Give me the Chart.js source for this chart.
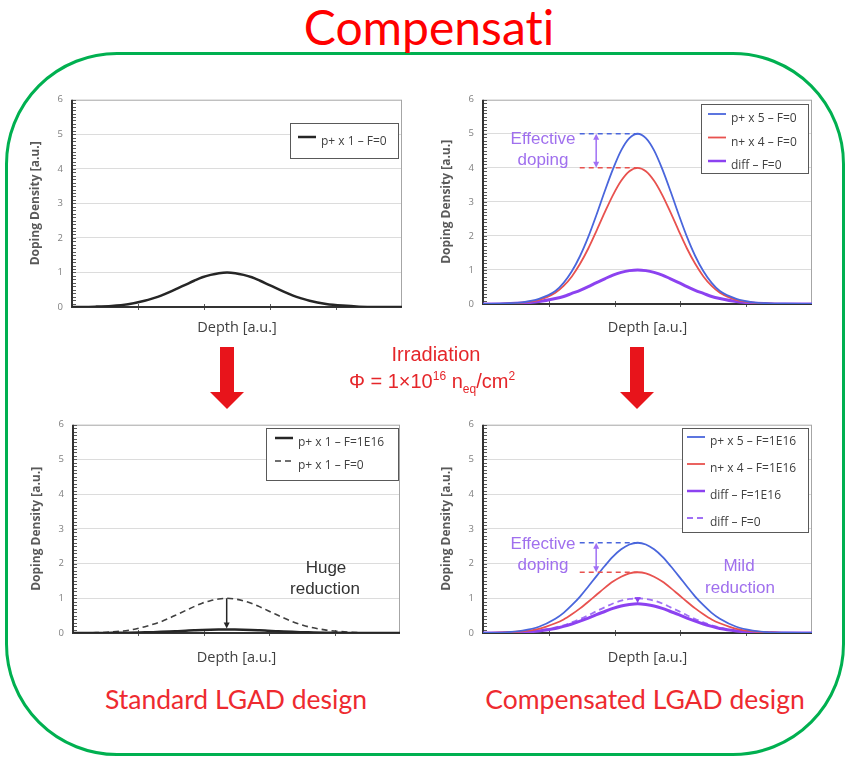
<!DOCTYPE html>
<html>
<head>
<meta charset="utf-8">
<script src="https://cdn.jsdelivr.net/npm/chart.js@4.4.1/dist/chart.umd.min.js"></script>
<style>
  body { margin: 0; background: #fff; }
  #page { position: relative; width: 852px; height: 760px; overflow: hidden; font-family: "Liberation Sans", Arial, sans-serif; }
  #frame { position: absolute; left: 5px; top: 52px; width: 840px; height: 704px; border: 3px solid #00B050; border-radius: 112px; box-sizing: border-box; }
  .t { position: absolute; transform: translate(-50%, -50%); white-space: nowrap; text-align: center; line-height: 1; }
  .cal { font-family: Lato, "Open Sans", sans-serif; font-variant-ligatures: none; }
  .purple { color: #A070EE; font-size: 17px; }
  .irr { color: #E5262A; font-size: 20px; }
  canvas { position: absolute; }
  sup, sub { font-size: 12px; line-height: 0; }
</style>
</head>
<body>
<div id="page">
  <div id="frame"></div>
  <div class="t cal" style="left:429px;top:27px;font-size:48px;color:#FF0000;">Compensati</div>

  <svg width="852" height="760" style="position:absolute;left:0;top:0;">
    <polygon points="220,347 234,347 234,392 244,392 227,409 210,392 220,392" fill="#E8141B"/>
    <polygon points="630,347 644,347 644,392 654,392 637,409 620,392 630,392" fill="#E8141B"/>
  </svg>

  <canvas id="c1"></canvas>
  <canvas id="c2"></canvas>
  <canvas id="c3"></canvas>
  <canvas id="c4"></canvas>

  <div class="t irr" style="left:436px;top:354px;">Irradiation</div>
  <div class="t irr" style="left:432px;top:381px;">Φ = 1×10<sup>16</sup> n<sub>eq</sub>/cm<sup>2</sup></div>

  <div class="t purple" style="left:543px;top:138px;">Effective</div>
  <div class="t purple" style="left:543px;top:159px;">doping</div>

  <div class="t" style="left:326px;top:567px;font-size:17px;color:#333;">Huge</div>
  <div class="t" style="left:325px;top:588px;font-size:17px;color:#333;">reduction</div>

  <div class="t purple" style="left:543px;top:543px;">Effective</div>
  <div class="t purple" style="left:543px;top:564px;">doping</div>
  <div class="t purple" style="left:739px;top:565px;">Mild</div>
  <div class="t purple" style="left:740px;top:587px;">reduction</div>

  <div class="t cal" style="left:236px;top:699px;font-size:26.5px;color:#EE2A2F;">Standard LGAD design</div>
  <div class="t cal" style="left:645px;top:699px;font-size:26.5px;color:#EE2A2F;">Compensated LGAD design</div>
</div>

<script>
const depth = [0, 0.7, 1.2, 1.7, 2.2, 2.45, 2.7, 2.95, 3.2, 3.45, 3.7, 3.95, 4.2, 4.45, 4.7, 4.95, 5.2, 5.45, 5.7, 5.95, 6.2, 6.45, 6.7, 6.95, 7.2, 7.7, 8.2, 8.7, 9.2, 10];

// standard LGAD, p+ x 1
const pPlus1_F0  = [0, 0.01, 0.03, 0.08, 0.18, 0.25, 0.33, 0.43, 0.54, 0.65, 0.76, 0.86, 0.93, 0.98, 1.0, 0.98, 0.93, 0.86, 0.76, 0.65, 0.54, 0.43, 0.33, 0.25, 0.18, 0.09, 0.04, 0.01, 0, 0];
const pPlus1_F16 = [0, 0, 0.005, 0.01, 0.02, 0.025, 0.033, 0.043, 0.054, 0.065, 0.076, 0.086, 0.093, 0.098, 0.1, 0.098, 0.093, 0.086, 0.076, 0.065, 0.054, 0.043, 0.033, 0.025, 0.02, 0.01, 0.005, 0, 0, 0];

// compensated LGAD, before irradiation
const pPlus5_F0 = [0, 0.02, 0.05, 0.15, 0.38, 0.62, 0.96, 1.41, 1.97, 2.62, 3.31, 3.96, 4.51, 4.87, 5.0, 4.87, 4.51, 3.96, 3.31, 2.62, 1.97, 1.41, 0.96, 0.62, 0.38, 0.15, 0.05, 0.02, 0.01, 0];
const nPlus4_F0 = [0, 0.01, 0.04, 0.12, 0.33, 0.53, 0.81, 1.18, 1.63, 2.15, 2.69, 3.2, 3.62, 3.9, 4.0, 3.9, 3.62, 3.2, 2.69, 2.15, 1.63, 1.18, 0.81, 0.53, 0.33, 0.12, 0.04, 0.01, 0, 0];
const diff_F0   = [0, 0.01, 0.03, 0.07, 0.16, 0.22, 0.31, 0.4, 0.51, 0.63, 0.74, 0.85, 0.93, 0.98, 1.0, 0.98, 0.93, 0.85, 0.74, 0.63, 0.51, 0.4, 0.31, 0.22, 0.16, 0.07, 0.03, 0.01, 0, 0];

// compensated LGAD, after 1E16
const pPlus5_F16 = [0, 0.02, 0.07, 0.18, 0.41, 0.58, 0.8, 1.05, 1.34, 1.64, 1.93, 2.2, 2.41, 2.55, 2.6, 2.55, 2.41, 2.2, 1.93, 1.64, 1.34, 1.05, 0.8, 0.58, 0.41, 0.18, 0.07, 0.02, 0.01, 0];
const nPlus4_F16 = [0, 0.02, 0.05, 0.12, 0.28, 0.39, 0.54, 0.71, 0.9, 1.1, 1.3, 1.48, 1.62, 1.72, 1.75, 1.72, 1.62, 1.48, 1.3, 1.1, 0.9, 0.71, 0.54, 0.39, 0.28, 0.12, 0.05, 0.02, 0, 0];
const diff_F16   = [0, 0.01, 0.02, 0.06, 0.13, 0.19, 0.26, 0.34, 0.43, 0.53, 0.62, 0.71, 0.78, 0.82, 0.84, 0.82, 0.78, 0.71, 0.62, 0.53, 0.43, 0.34, 0.26, 0.19, 0.13, 0.06, 0.02, 0.01, 0, 0];

const BLUE = '#4A66DC', RED = '#E8524F', PURPLE = '#8C42F0', PURPLE_LT = '#A070F5', BLACK = '#262626';

function isWhole(v) { return Math.abs(v - Math.round(v)) < 1e-6; }
function peakX(arr) { return depth[arr.indexOf(Math.max(...arr))]; }
function peakY(arr) { return Math.max(...arr); }

function seg(ctx, x0, y0, x1, y1) { ctx.beginPath(); ctx.moveTo(x0, y0); ctx.lineTo(x1, y1); ctx.stroke(); }
function head(ctx, x, y, dir) { // dir 1 = pointing down
  ctx.beginPath(); ctx.moveTo(x, y); ctx.lineTo(x - 3, y - 6 * dir); ctx.lineTo(x + 3, y - 6 * dir); ctx.closePath(); ctx.fill();
}

// frame, minor ticks, legend box and the little notes drawn on top of the plot
function decoPlugin(deco) {
  return {
    id: 'deco',
    beforeDatasetsDraw(chart) {
      const {ctx, chartArea: a, scales: {x, y}} = chart;
      ctx.save();
      ctx.strokeStyle = '#a6a6a6'; ctx.lineWidth = 1;
      ctx.strokeRect(a.left + 0.5, a.top + 0.5, a.width - 1, a.height - 1);
      ctx.strokeStyle = '#595959';
      y.ticks.forEach(t => {
        const py = Math.round(y.getPixelForValue(t.value)) + 0.5;
        seg(ctx, a.left, py, a.left + 4, py);
      });
      x.ticks.forEach(t => {
        if (t.value <= 0 || t.value >= 10) return;
        const px = Math.round(x.getPixelForValue(t.value)) + 0.5;
        seg(ctx, px, a.bottom - 3, px, a.bottom + 3);
      });
      ctx.strokeStyle = '#333'; ctx.lineWidth = 2;
      seg(ctx, a.left, a.top, a.left, a.bottom);
      seg(ctx, a.left - 1, a.bottom, a.right, a.bottom);
      ctx.restore();
    },
    afterDatasetsDraw(chart) {
      const {ctx, chartArea: a, scales: {x, y}} = chart;
      ctx.save();
      // notes: dashed level lines and arrows
      (deco.notes || []).forEach(n => {
        ctx.strokeStyle = n.color; ctx.fillStyle = n.color;
        if (n.kind === 'dash') {
          ctx.lineWidth = 1.5; ctx.setLineDash([5, 4]);
          const py = y.getPixelForValue(n.y);
          seg(ctx, x.getPixelForValue(n.x0), py, x.getPixelForValue(n.x1), py);
          ctx.setLineDash([]);
        } else {
          ctx.lineWidth = 1.5;
          const px = x.getPixelForValue(n.x);
          const p0 = y.getPixelForValue(n.y0), p1 = y.getPixelForValue(n.y1);
          seg(ctx, px, p0 + (n.both ? 5 : 0), px, p1 - 5);
          head(ctx, px, p1, 1);
          if (n.both) head(ctx, px, p0, -1);
          else if (n.cap) seg(ctx, px - 3, p0, px + 3, p0);
        }
      });
      // legend
      const L = deco.legend;
      const bx = Math.round(a.right - L.right - L.w), by = Math.round(a.top + L.top);
      ctx.fillStyle = '#fff'; ctx.fillRect(bx, by, L.w, L.h);
      ctx.strokeStyle = '#595959'; ctx.lineWidth = 1;
      ctx.strokeRect(bx + 0.5, by + 0.5, L.w, L.h);
      ctx.font = '12px "Open Sans"'; ctx.textBaseline = 'middle'; ctx.textAlign = 'left';
      chart.data.datasets.forEach((ds, i) => {
        const ry = by + L.first + i * L.rowH;
        ctx.strokeStyle = ds.borderColor; ctx.lineWidth = Math.min(ds.borderWidth, 2.5);
        ctx.setLineDash(ds.borderDash || []);
        seg(ctx, bx + L.text - 23, ry - 4, bx + L.text - 5, ry - 4);
        ctx.setLineDash([]);
        ctx.fillStyle = '#404040';
        ctx.fillText(ds.label, bx + L.text, ry + 1);
      });
      ctx.restore();
    }
  };
}

function makePanel(id, area, titleY, series, deco) {
  const cv = document.getElementById(id);
  cv.width = area.r - area.l + 70;
  cv.height = area.b - area.t + 55;
  cv.style.left = (area.l - 60) + 'px';
  cv.style.top = (area.t - 10) + 'px';
  return new Chart(cv, {
    type: 'line',
    data: {
      datasets: series.map(s => ({
        label: s.label,
        data: depth.map((d, i) => ({x: d, y: s.values[i]})),
        borderColor: s.color,
        borderWidth: s.width,
        borderDash: s.dash || [],
        pointRadius: 0,
        cubicInterpolationMode: 'monotone',
        fill: false
      }))
    },
    options: {
      responsive: false,
      animation: false,
      devicePixelRatio: 1,
      layout: {padding: {left: 10, top: 10, right: 10, bottom: 5}},
      plugins: {legend: {display: false}, tooltip: {enabled: false}},
      scales: {
        x: {
          type: 'linear', min: 0, max: 10,
          afterFit: s => { s.height = 40; },
          border: {display: false},
          grid: {display: false},
          ticks: {display: false, stepSize: 2},
          title: {display: true, text: 'Depth [a.u.]', color: '#404040',
                  font: {family: 'Open Sans', size: 14.5},
                  padding: {top: 0, bottom: area.b + 40 - titleY - 8.7}}
        },
        y: {
          min: 0, max: 6,
          afterFit: s => { s.width = 50; },
          border: {display: false},
          grid: {drawTicks: false, lineWidth: 1,
                 color: c => (isWhole(c.tick.value) && c.tick.value > 0.5 && c.tick.value < 5.5) ? '#dcdcdc' : 'rgba(0,0,0,0)'},
          ticks: {stepSize: 0.1, autoSkip: false, padding: 9, color: '#7f7f7f',
                  font: {family: 'Open Sans', size: 9.5},
                  callback: v => isWhole(v) ? String(Math.round(v)) : ''},
          title: {display: true, text: 'Doping Density [a.u.]', color: '#595959',
                  font: {family: 'Open Sans', size: 12, weight: 'bold'},
                  padding: {top: 6, bottom: 0}}
        }
      }
    },
    plugins: [decoPlugin(deco)]
  });
}

// top left: standard, unirradiated
makePanel('c1', {l: 72, t: 95, r: 402, b: 307}, 328,
  [{label: 'p+ x 1 – F=0', values: pPlus1_F0, color: BLACK, width: 2.5}],
  {legend: {right: 4, top: 23, w: 108, h: 35, first: 18, rowH: 0, text: 31}});

// top right: compensated, unirradiated
makePanel('c2', {l: 483, t: 95, r: 812, b: 304}, 328,
  [{label: 'p+ x 5 – F=0', values: pPlus5_F0, color: BLUE, width: 1.8},
   {label: 'n+ x 4 – F=0', values: nPlus4_F0, color: RED, width: 1.8},
   {label: 'diff – F=0', values: diff_F0, color: PURPLE, width: 3}],
  {legend: {right: 4, top: 4, w: 107, h: 69, first: 14, rowH: 23.5, text: 30},
   notes: [
     {kind: 'dash', x0: 2.94, x1: peakX(pPlus5_F0), y: peakY(pPlus5_F0), color: BLUE},
     {kind: 'dash', x0: 2.94, x1: peakX(nPlus4_F0), y: peakY(nPlus4_F0), color: RED},
     {kind: 'arrow', x: 3.44, y0: peakY(pPlus5_F0), y1: peakY(nPlus4_F0), color: PURPLE_LT, both: true}
   ]});

// bottom left: standard, irradiated
makePanel('c3', {l: 73, t: 420, r: 400, b: 633}, 658,
  [{label: 'p+ x 1 – F=1E16', values: pPlus1_F16, color: BLACK, width: 2.5},
   {label: 'p+ x 1 – F=0', values: pPlus1_F0, color: '#404040', width: 1.6, dash: [6, 4]}],
  {legend: {right: 2, top: 3, w: 132, h: 52, first: 14, rowH: 23, text: 32},
   notes: [
     {kind: 'arrow', x: peakX(pPlus1_F0), y0: peakY(pPlus1_F0), y1: peakY(pPlus1_F16) + 0.03, color: BLACK}
   ]});

// bottom right: compensated, irradiated
makePanel('c4', {l: 483, t: 420, r: 812, b: 633}, 658,
  [{label: 'p+ x 5 – F=1E16', values: pPlus5_F16, color: BLUE, width: 1.8},
   {label: 'n+ x 4 – F=1E16', values: nPlus4_F16, color: RED, width: 1.8},
   {label: 'diff – F=1E16', values: diff_F16, color: PURPLE, width: 3},
   {label: 'diff – F=0', values: diff_F0, color: PURPLE_LT, width: 1.8, dash: [6, 4]}],
  {legend: {right: 4, top: 3, w: 126, h: 104, first: 13, rowH: 27, text: 28},
   notes: [
     {kind: 'dash', x0: 2.94, x1: peakX(pPlus5_F16), y: peakY(pPlus5_F16), color: BLUE},
     {kind: 'dash', x0: 2.94, x1: peakX(nPlus4_F16), y: peakY(nPlus4_F16), color: RED},
     {kind: 'arrow', x: 3.44, y0: peakY(pPlus5_F16), y1: peakY(nPlus4_F16), color: PURPLE_LT, both: true},
     {kind: 'arrow', x: peakX(diff_F0), y0: peakY(diff_F0), y1: peakY(diff_F16) + 0.02, color: PURPLE, cap: true}
   ]});
</script>
</body>
</html>
